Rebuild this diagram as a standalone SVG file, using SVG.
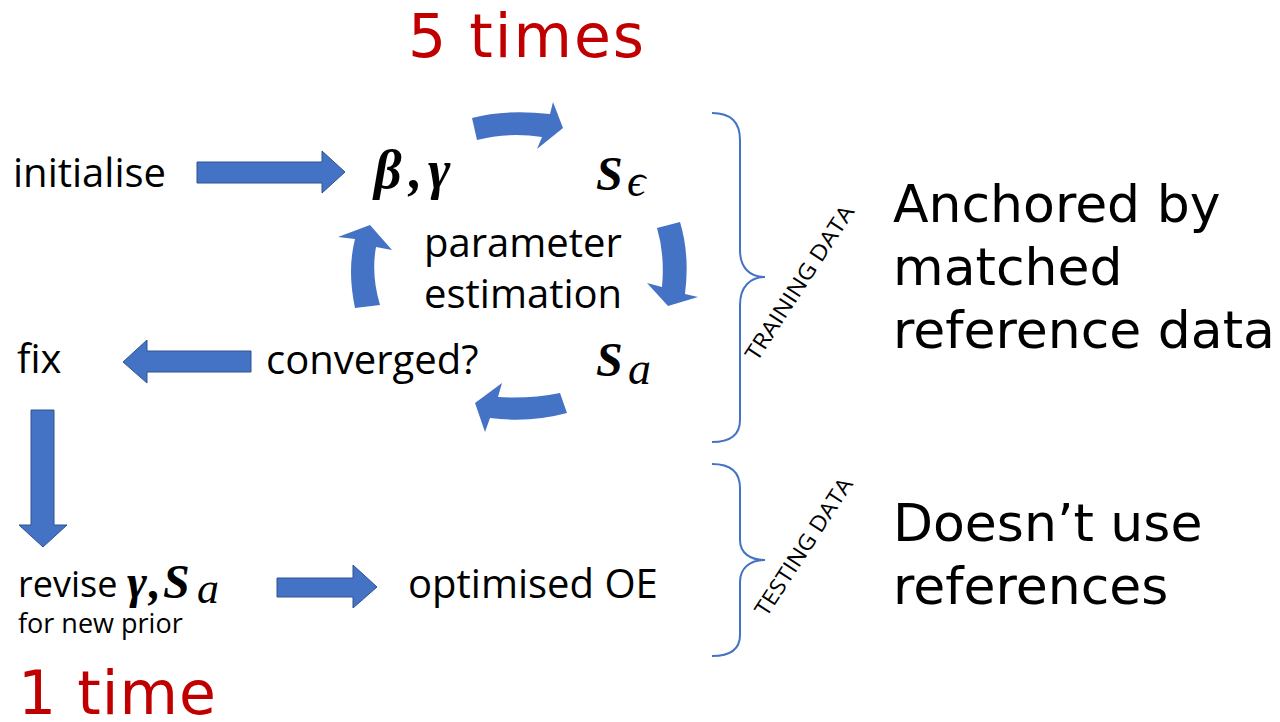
<svg xmlns="http://www.w3.org/2000/svg" width="1280" height="722" viewBox="0 0 1280 722">
<style>
.lbl{font-family:"Open Sans","Liberation Sans",sans-serif;font-size:40px;fill:#000}
.big{font-family:"DejaVu Sans","Liberation Sans",sans-serif;font-size:52px;fill:#000}
.red{font-family:"DejaVu Sans","Liberation Sans",sans-serif;font-size:60px;fill:#C00000}
.mb{font-family:"Liberation Serif","DejaVu Serif",serif;font-weight:bold;font-style:italic;fill:#000}
.mi{font-family:"Liberation Serif","DejaVu Serif",serif;font-style:italic;fill:#000}
.arr{fill:#4472C4;stroke:#2F528F;stroke-width:1}
.carr{fill:#4472C4}
.brace{fill:none;stroke:#4472C4;stroke-width:2}
.rot{font-family:"Open Sans","Liberation Sans",sans-serif;font-size:22px;fill:#000}
</style>
<rect width="1280" height="722" fill="#fff"/>

<g id="title-5times"><text class="red" x="408" y="57" letter-spacing="2">5 times</text></g>
<g id="title-1time"><text class="red" x="18" y="714" letter-spacing="1">1 time</text></g>

<g id="node-initialise"><text class="lbl" x="13" y="187">initialise</text></g>
<g id="node-beta-gamma">
<text class="mb" style="font-size:54px" x="374" y="188">β</text>
<text class="mb" style="font-size:54px" x="409" y="188">,</text>
<text class="mb" style="font-size:54px" x="428" y="188">γ</text>
</g>
<g id="node-S-eps">
<text class="mb" style="font-size:48px" x="596" y="190">S</text>
<text class="mi" style="font-size:46px" x="627" y="196">ϵ</text>
</g>
<g id="node-param"><text class="lbl" x="424" y="257">parameter</text><text class="lbl" x="424" y="308">estimation</text></g>
<g id="node-S-a">
<text class="mb" style="font-size:48px" x="596" y="376">S</text>
<text class="mi" style="font-size:46px" x="628" y="384">a</text>
</g>
<g id="node-converged"><text class="lbl" x="266" y="374">converged?</text></g>
<g id="node-fix"><text class="lbl" x="17" y="373">fix</text></g>
<g id="node-revise">
<text class="lbl" style="font-size:36px" x="18" y="597">revise</text>
<text class="mb" style="font-size:48px" x="127" y="598">γ</text>
<text class="mb" style="font-size:48px" x="149" y="598">,</text>
<text class="mb" style="font-size:48px" x="163" y="598">S</text>
<text class="mi" style="font-size:44px" x="197" y="603">a</text>
<text class="lbl" style="font-size:27px" x="18" y="633">for new prior</text>
</g>
<g id="node-optimised"><text class="lbl" x="408" y="598">optimised OE</text></g>

<g id="connectors">
<path class="arr" d="M197,162 H322 V151 L345,172 L322,193 V183 H197 Z"/>
<path class="arr" d="M251,351 H147 V340 L123,362 L147,383 V372 H251 Z"/>
<path class="arr" d="M31,410 H54 V525 H67 L43,547 L19,525 H31 Z"/>
<path class="arr" d="M277,578 H353 V565 L377,587 L353,608 V597 H277 Z"/>
<path class="carr" d="M472,118 Q505,109 550,114 L553,102 L563,128 L537,149 L542,137 Q508,132 477,140 Z"/>
<path class="carr" d="M657,228 L680,222 Q690,255 685,294 L698,297 L668,306 L647,283 L662,287 Q665,255 657,228 Z"/>
<path class="carr" d="M560,393 L567,413 Q530,423 490,418 L485,432 L475,403 L502,383 L498,397 Q530,399 560,393 Z"/>
<path class="carr" d="M355,308 Q347,270 355,239 L338,237 L370,225 L392,250 L376,247 Q371,275 380,305 Z"/>
</g>

<g id="brace-training">
<path class="brace" d="M712,113 C730,113 740,122 740,140 V250 C740,268 750,277 765,277 C750,277 740,287 740,305 V420 C740,435 730,442 712,442"/>
<text class="rot" transform="translate(806,287) rotate(-57)" text-anchor="middle" textLength="180" lengthAdjust="spacingAndGlyphs">TRAINING DATA</text>
</g>
<g id="brace-testing">
<path class="brace" d="M712,464 C730,464 740,472 740,488 V540 C740,553 750,560 765,560 C750,560 740,568 740,582 V635 C740,650 730,656 712,656"/>
<text class="rot" transform="translate(810,551) rotate(-57)" text-anchor="middle" textLength="160" lengthAdjust="spacingAndGlyphs">TESTING DATA</text>
</g>

<g id="node-anchored">
<text class="big" x="893" y="222">Anchored by</text>
<text class="big" x="893" y="285">matched</text>
<text class="big" x="893" y="348">reference data</text>
</g>
<g id="node-doesnt">
<text class="big" x="893" y="541">Doesn’t use</text>
<text class="big" x="893" y="604">references</text>
</g>
</svg>
